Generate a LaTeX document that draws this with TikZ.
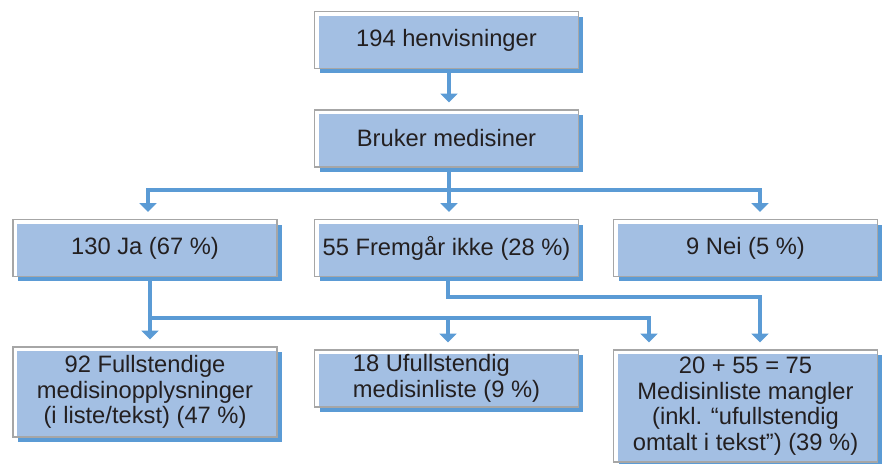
\documentclass[tikz,border=0pt]{standalone}
\usepackage{fontspec}
\setmainfont{Liberation Sans}
\definecolor{hvInk}{HTML}{231F20}
\definecolor{hvFill}{HTML}{A3BFE3}
\definecolor{hvBlue}{HTML}{5B9BD5}
\definecolor{hvFrame}{HTML}{A6A6A6}
\usetikzlibrary{arrows.meta,shadows}

\begin{document}
\begin{tikzpicture}[
  x=0.02cm,y=-0.02cm,
  font=\fontsize{13.5}{14.6}\selectfont,
  box/.style={draw=hvFrame,line width=0.6pt,fill=white,text=hvInk,
              minimum width=5.28cm,minimum height=1.14cm,align=center,inner sep=0pt,
              general shadow={fill=hvBlue,shadow xshift=0.1cm,shadow yshift=-0.1cm},
              path picture={\fill[hvFill] ([shift={(0.08cm,-0.08cm)}]path picture bounding box.north west)
                rectangle (path picture bounding box.south east);}},
  tallbox/.style={box,minimum height=1.8cm},
  flow/.style={->,draw=hvBlue,line width=2.8pt,shorten >=4pt},
  >={Triangle[length=5pt,width=9.5pt]}
]
\useasboundingbox (0,0) rectangle (885,463);

\node[box] (hen)     at (446.5,40)    {194 henvisninger};
\node[box] (bruker)  at (446.5,138.5) {Bruker medisiner};
\draw[flow] ([shift={(2.5,0)}]hen.south) -- ([shift={(2.5,0)}]bruker.north);

\node[box] (ja)      at (145,248)     {130 Ja (67 \%)};
\node[box] (fremgar) at (446.5,248)   {55 Fremgår ikke (28 \%)};
\node[box] (nei)     at (745.5,248)   {9 Nei (5 \%)};
\coordinate (split) at (449,190);
\draw[flow] ([shift={(2.5,0)}]bruker.south) -- ([shift={(2.5,0)}]fremgar.north);
\draw[flow] (split) -| ([shift={(3,0)}]ja.north);
\draw[flow] (split) -| ([shift={(14.5,0)}]nei.north);

\node[tallbox] (full)  at (145,392)
  {92 Fullstendige\\medisinopplysninger\\(i liste/tekst) (47 \%)};
\node[box,align=left] (ufull) at (446.5,378.5)
  {18 Ufullstendig\\medisinliste (9 \%)};
\node[box,minimum height=2.24cm] (mangler) at (745.5,406)
  {20 + 55 = 75\\Medisinliste mangler\\(inkl. “ufullstendig\\omtalt i tekst”) (39 \%)};
\coordinate (jasplit) at (150,318);
\draw[flow] ([shift={(5,0)}]ja.south) -- ([shift={(5,0)}]full.north);
\draw[flow] (jasplit) -| ([shift={(1.5,0)}]ufull.north);
\draw[flow] (jasplit) -| ([shift={(-96.5,0)}]mangler.north);
\draw[flow] ([shift={(1.5,0)}]fremgar.south) -- ++(0,20) -| ([shift={(14.5,0)}]mangler.north);
\end{tikzpicture}
\end{document}
